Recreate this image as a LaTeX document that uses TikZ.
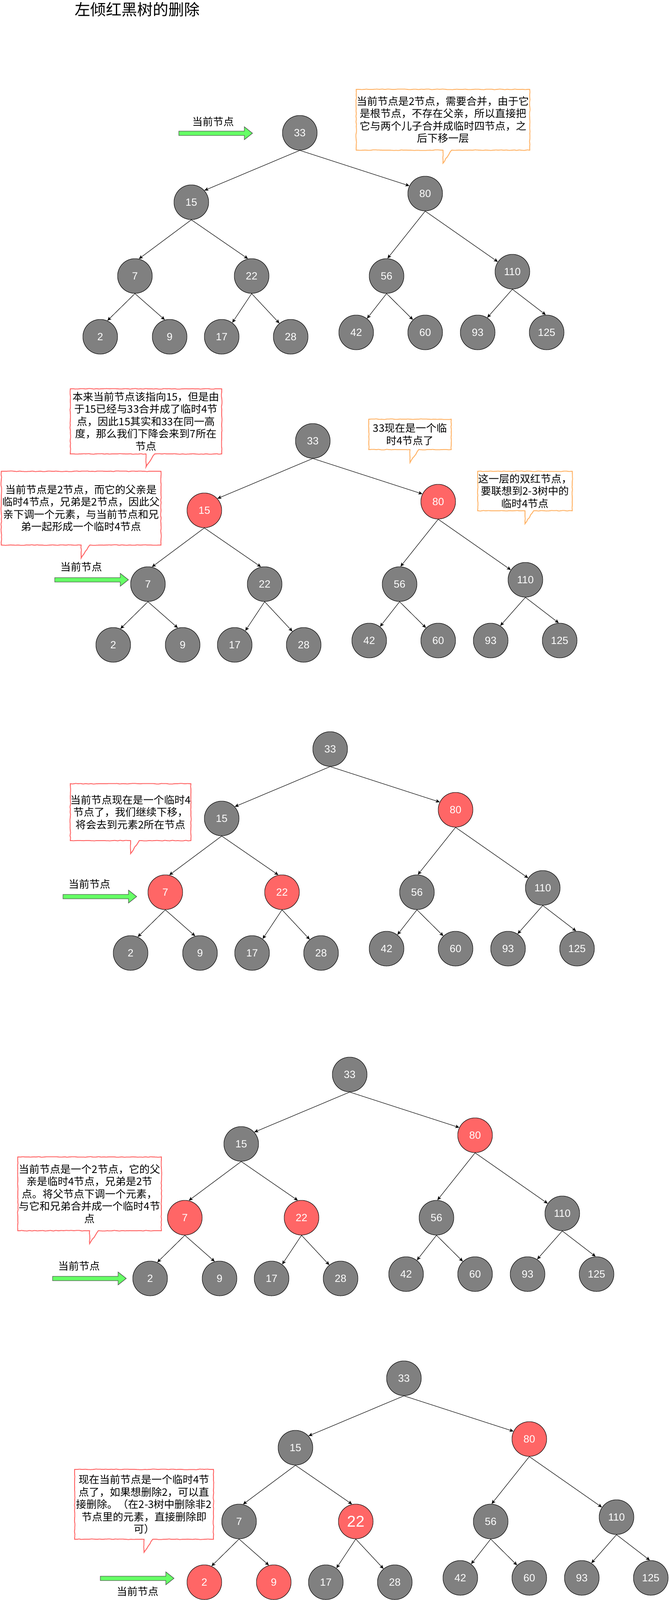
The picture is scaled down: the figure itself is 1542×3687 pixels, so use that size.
\documentclass[tikz,border=0pt]{standalone}
\usepackage{fontspec}
\setmainfont{Liberation Sans}
\newfontfamily\cjk{Noto Sans CJK SC}
\usetikzlibrary{arrows.meta,decorations.pathmorphing}
\definecolor{nodegrey}{HTML}{808080}
\definecolor{nodered}{HTML}{FF6666}
\definecolor{arrgreen}{HTML}{66FF66}
\definecolor{calorange}{HTML}{FFB366}
\definecolor{calred}{HTML}{FF6666}
\tikzset{
 gn/.style={circle, draw=black, line width=1pt, fill=nodegrey, minimum size=80pt, inner sep=0pt, text=white, font=\fontsize{24}{28}\selectfont},
 rn/.style={gn, fill=nodered},
 bigtxt/.style={font=\fontsize{36}{40}\selectfont},
 edge/.style={line width=1pt, -{Stealth[length=9pt,width=8pt,inset=2pt]}},
 sketchy/.style={line width=2pt, fill=white, decorate, decoration={random steps, segment length=6pt, amplitude=0.7pt}},
 calO/.style={sketchy, draw=calorange},
 calR/.style={sketchy, draw=calred},
 ctext/.style={align=center, inner sep=0pt, font=\cjk\fontsize{24}{28.5}\selectfont},
 curlabel/.style={inner sep=0pt, font=\cjk\fontsize{24}{28}\selectfont},
 garrow/.style={fill=arrgreen, draw=black!75, line width=1pt},
}
\newcommand\mytree[9]{%
\begin{scope}[shift={(#2,#3)}]
 \node[gn] (#1n33) at (691,306) {33};
 \node[#4] (#1n15) at (441,466) {15};
 \node[#5] (#1n80) at (980,446) {80};
 \node[#6] (#1n7) at (311,636) {7};
 \node[#7] (#1n22) at (580,636) {22};
 \node[gn] (#1n56) at (891,636) {56};
 \node[gn] (#1n110) at (1181,626) {110};
 \node[#8] (#1n2) at (231,776) {2};
 \node[#9] (#1n9) at (391,776) {9};
 \node[gn] (#1n17) at (511,776) {17};
 \node[gn] (#1n28) at (670,776) {28};
 \node[gn] (#1n42) at (821,766) {42};
 \node[gn] (#1n60) at (980,766) {60};
 \node[gn] (#1n93) at (1101,766) {93};
 \node[gn] (#1n125) at (1260,766) {125};
 \draw[edge] (#1n33.south) -- (#1n15.42);
 \draw[edge] (#1n33.south) -- (#1n80.154);
 \draw[edge] (#1n15.south) -- (#1n7.77);
 \draw[edge] (#1n15.south) -- (#1n22.102);
 \draw[edge] (#1n80.south) -- (#1n56.87);
 \draw[edge] (#1n80.south) -- (#1n110.146);
 \draw[edge] (#1n7.south) -- (#1n2.66);
 \draw[edge] (#1n7.south) -- (#1n9.106);
 \draw[edge] (#1n22.south) -- (#1n17.53);
 \draw[edge] (#1n22.south) -- (#1n28.130);
 \draw[edge] (#1n56.south) -- (#1n42.52);
 \draw[edge] (#1n56.south) -- (#1n60.134);
 \draw[edge] (#1n110.south) -- (#1n93.57);
 \draw[edge] (#1n110.south) -- (#1n125.93);
\end{scope}}
\newcommand\mycallout[7]{%
 \draw[#6] (#2,#3) -- (#4,#3) -- (#4,#5) -- ({(#2+#4)/2+20},#5) -- ({(#2+#4)/2},{#5+30}) -- ({(#2+#4)/2},#5) -- (#2,#5) -- cycle;
 \node[ctext] (#1) at ({(#2+#4)/2},{(#3+#5)/2}) {#7};
}
\newcommand\mycurarrow[3]{%
 \coordinate (#1) at ({#2+170},#3);
 \draw[garrow] (#2,{#3-5}) -- ({#2+151},{#3-5}) -- ({#2+151},{#3-15}) -- (#1) -- ({#2+151},{#3+15}) -- ({#2+151},{#3+5}) -- (#2,{#3+5}) -- cycle;
}
\begin{document}
\begin{tikzpicture}[x=1pt,y=-1pt]
\useasboundingbox (0,0) rectangle (1542,3687);
\node[anchor=west, inner sep=0pt, font=\cjk\fontsize{36}{40}\selectfont] (title) at (172,22) {左倾红黑树的删除};

% panel 1
\mytree{a}{0}{0}{gn}{gn}{gn}{gn}{gn}{gn}
\mycallout{c1}{821}{206}{1221}{346}{calO}{当前节点是2节点，需要合并，由于它\\是根节点，不存在父亲，所以直接把\\它与两个儿子合并成临时四节点，之\\后下移一层}
\mycurarrow{p1}{412}{307}
\node[curlabel] (l1) at (491,280) {当前节点};

% panel 2
\mytree{b}{30}{710}{rn}{rn}{gn}{gn}{gn}{gn}
\mycallout{c2a}{162}{896}{511}{1046}{calR}{本来当前节点该指向15，但是由\\于15已经与33合并成了临时4节\\点，因此15其实和33在同一高\\度，那么我们下降会来到7所在\\节点}
\mycallout{c2b}{850}{966}{1040}{1036}{calO}{33现在是一个临\\时4节点了}
\mycallout{c2c}{1101}{1086}{1319}{1177}{calO}{这一层的双红节点，\\要联想到2-3树中的\\临时4节点}
\mycallout{c2d}{3}{1086}{371}{1256}{calR}{当前节点是2节点，而它的父亲是\\临时4节点，兄弟是2节点，因此父\\亲下调一个元素，与当前节点和兄\\弟一起形成一个临时4节点}
\mycurarrow{p2}{126}{1336}
\node[curlabel] (l2) at (187,1306) {当前节点};

% panel 3
\mytree{c}{70}{1420}{gn}{rn}{rn}{rn}{gn}{gn}
\mycallout{c3}{162}{1806}{440}{1937}{calR}{当前节点现在是一个临时4\\节点了，我们继续下移，\\将会去到元素2所在节点}
\mycurarrow{p3}{145}{2066}
\node[curlabel] (l3) at (206,2037) {当前节点};

% panel 4
\mytree{d}{115}{2170}{gn}{rn}{rn}{rn}{gn}{gn}
\mycallout{c4}{41}{2666}{372}{2836}{calR}{当前节点是一个2节点，它的父\\亲是临时4节点，兄弟是2节\\点。将父节点下调一个元素，\\与它和兄弟合并成一个临时4节\\点}
\mycurarrow{p4}{121}{2946}
\node[curlabel] (l4) at (182,2917) {当前节点};

% panel 5
\mytree{e}{240}{2870}{gn}{rn}{gn}{rn,bigtxt}{rn}{rn}
\mycallout{c5}{172}{3386}{492}{3547}{calR}{现在当前节点是一个临时4节\\点了，如果想删除2，可以直\\接删除。（在2-3树中删除非2\\节点里的元素，直接删除即\\可）}
\mycurarrow{p5}{231}{3637}
\node[curlabel] (l5) at (317,3667) {当前节点};
\end{tikzpicture}
\end{document}
